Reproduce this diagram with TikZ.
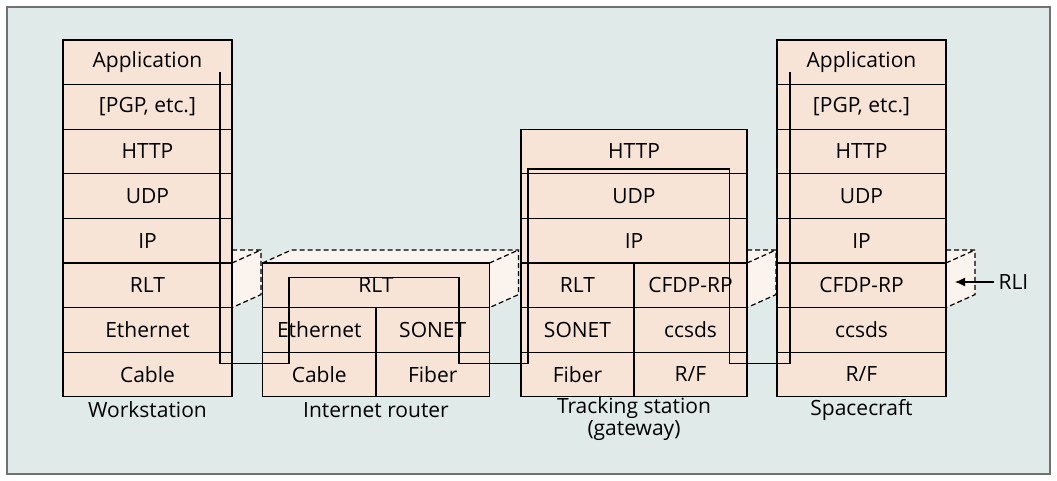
\documentclass[tikz,border=0pt]{standalone}
\usepackage{fontspec}
\setmainfont{Open Sans}
\usepackage{tikz}
\usetikzlibrary{arrows.meta}

\definecolor{panelbg}{HTML}{E0EBE9}
\definecolor{layerfill}{HTML}{F7E4D7}
\definecolor{rlifill}{HTML}{FBF3EE}
\definecolor{framegray}{HTML}{707070}

\begin{document}
\begin{tikzpicture}[x=0.5pt, y=-0.5pt, line width=0.6pt,
    layer/.style={draw, fill=layerfill, minimum height=22.3pt, inner sep=0pt,
      font=\fontsize{10.5}{12}\selectfont},
    stackcol/.style={layer, minimum width=84.5pt},
    routercol/.style={layer, minimum width=56.75pt},
    trackcol/.style={layer, minimum width=56.5pt},
    rliedge/.style={draw, dash pattern=on 2.5pt off 1.5pt},
    caption/.style={font=\fontsize{10.5}{9.5}\selectfont, align=center, inner sep=0pt}]

    % Panel
    \useasboundingbox (0,0) rectangle (1057,481);
    \draw[framegray, fill=panelbg] (7,7) rectangle (1050,474);

    % RLI boxes (behind the stacks)
    \fill[rlifill] (232,250) -- (261,250) -- (261,294.6) -- (232,307.6) -- cycle;
    \draw[rliedge] (232,250) -- (261,250) -- (261,294.6) -- (232,307.6) (232,263) -- (261,250);

    \fill[rlifill] (262.5,263) -- (291.5,250) -- (518.5,250) -- (518.5,294.6) -- (489.5,307.6) -- (489.5,263) -- cycle;
    \draw[rliedge] (262.5,263) -- (291.5,250) -- (518.5,250) -- (518.5,294.6) -- (489.5,307.6) (489.5,263) -- (518.5,250);

    \fill[rlifill] (747,250) -- (776,250) -- (776,294.6) -- (747,307.6) -- cycle;
    \draw[rliedge] (747,250) -- (776,250) -- (776,294.6) -- (747,307.6) (747,263) -- (776,250);

    \fill[rlifill] (946,250) -- (975,250) -- (975,294.6) -- (946,307.6) -- cycle;
    \draw[rliedge] (946,250) -- (975,250) -- (975,294.6) -- (946,307.6) (946,263) -- (975,250);

    % Workstation
    \node[stackcol] (wsApp) at (147.5,62.3) {Application};
    \node[stackcol] (wsPgp) at (147.5,106.9) {[PGP, etc.]};
    \node[stackcol] (wsHttp) at (147.5,151.5) {HTTP};
    \node[stackcol] (wsUdp) at (147.5,196.1) {UDP};
    \node[stackcol] (wsIp) at (147.5,240.7) {IP};
    \node[stackcol] (wsRlt) at (147.5,285.3) {RLT};
    \node[stackcol] (wsEth) at (147.5,329.9) {Ethernet};
    \node[stackcol] (wsCable) at (147.5,374.5) {Cable};
    \node[caption] (wsLabel) at (147.5,410) {Workstation};

    % Internet router
    \node[layer, minimum width=113.5pt] (rtRlt) at (376,285.3) {RLT};
    \node[routercol] (rtEth) at (319.25,329.9) {Ethernet};
    \node[routercol] (rtSonet) at (432.75,329.9) {SONET};
    \node[routercol] (rtCable) at (319.25,374.5) {Cable};
    \node[routercol] (rtFiber) at (432.75,374.5) {Fiber};
    \node[caption] (rtLabel) at (376,410) {Internet router};

    % Tracking station
    \node[layer, minimum width=113pt] (tsHttp) at (634,151.5) {HTTP};
    \node[layer, minimum width=113pt] (tsUdp) at (634,196.1) {UDP};
    \node[layer, minimum width=113pt] (tsIp) at (634,240.7) {IP};
    \node[trackcol] (tsRlt) at (577.5,285.3) {RLT};
    \node[trackcol] (tsCfdp) at (690.5,285.3) {CFDP-RP};
    \node[trackcol] (tsSonet) at (577.5,329.9) {SONET};
    \node[trackcol] (tsCcsds) at (690.5,329.9) {ccsds};
    \node[trackcol] (tsFiber) at (577.5,374.5) {Fiber};
    \node[trackcol] (tsRf) at (690.5,374.5) {R/F};
    \node[caption] (tsLabel) at (634,419) {Tracking station\\(gateway)};

    % Spacecraft
    \node[stackcol] (scApp) at (861.5,62.3) {Application};
    \node[stackcol] (scPgp) at (861.5,106.9) {[PGP, etc.]};
    \node[stackcol] (scHttp) at (861.5,151.5) {HTTP};
    \node[stackcol] (scUdp) at (861.5,196.1) {UDP};
    \node[stackcol] (scIp) at (861.5,240.7) {IP};
    \node[stackcol] (scCfdp) at (861.5,285.3) {CFDP-RP};
    \node[stackcol] (scCcsds) at (861.5,329.9) {ccsds};
    \node[stackcol] (scRf) at (861.5,374.5) {R/F};
    \node[caption] (scLabel) at (861.5,410) {Spacecraft};

    % Data path
    \coordinate (wsPath) at (220,72);
    \coordinate (scPath) at (790,72);
    \draw (wsPath) -- (220,363.3) -- (289,363.3) -- (289,277.7) -- (459,277.7) -- (459,363.3)
      -- (528,363.3) -- (528,169) -- (729.3,169) -- (729.3,363.3) -- (790,363.3) -- (scPath);

    % RLI
    \node[caption, anchor=west] (rliLabel) at (998,282) {RLI};
    \coordinate (rliTip) at (955,282);
    \draw[-{Latex[length=5pt,width=4.5pt]}] (rliLabel.west) ++(-4,0) -- (rliTip);
  \end{tikzpicture}
\end{document}
